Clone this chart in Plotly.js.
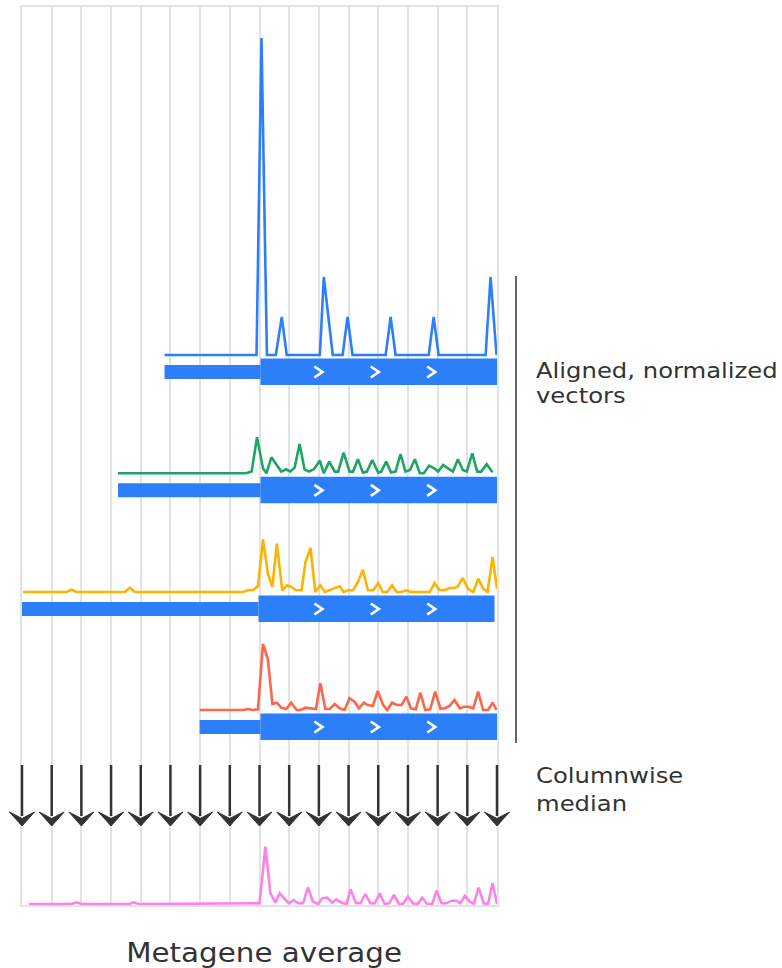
<!DOCTYPE html>
<html><head><meta charset="utf-8">
<script src="https://cdn.plot.ly/plotly-3.0.1.min.js"></script>
<style>html,body{margin:0;padding:0;background:#fff}#chart{width:782px;height:968px}</style>
</head><body><div id="chart"></div>
<script>
// ---- data (x = nt position relative to start codon, y = normalized signal) ----
const columnEdges = [-48,-42,-36,-30,-24,-18,-12,-6,0,6,12,18,24,30,36,42,48];
const chevronPos = [11.9, 23.3, 34.7];

const blueX = [-19.2,-0.6,0.4,1.5,3.3,4.5,5.5,12.2,13.0,14.8,16.8,17.8,18.8,25.5,26.5,27.5,34.2,35.2,36.2,45.7,46.7,47.9];
const blueY = [0,0,31.7,0,0,3.8,0,0,7.8,0,0,3.8,0,0,3.8,0,0,3.8,0,0,7.8,0];

const greenX = [-28.6,-2.7,-1.6,-0.5,0.7,1.4,2.4,4.4,5.4,6.2,7.1,8.1,9.1,10.0,11.0,12.2,13.0,14.1,15.2,15.9,17.0,18.2,18.9,19.9,20.9,21.7,22.8,24.0,24.6,25.6,26.6,27.5,28.5,29.5,30.4,31.4,32.4,33.2,34.3,35.3,36.1,37.1,38.1,39.1,40.1,41.1,41.9,43.0,44.0,44.8,45.9,47.1];
const greenY = [0,0,0.17,3.6,0.5,0,1.6,0.17,0.4,0.17,0.57,2.93,0.4,0.17,0.4,1.27,0,1.17,0.17,0.17,2.07,0.17,0.17,1.4,0.07,0.17,1.33,0.07,0.17,1.17,0.07,0.17,1.93,0.17,0.33,1.4,0,0,0.77,0.5,0.17,0.83,0.5,0.17,1.4,0.33,0.17,2.0,0.17,0.17,0.9,0.1];

const yellowX = [-47.8,-39.0,-38.0,-37.0,-27.2,-26.2,-25.2,-3.3,-2.3,-1.3,-0.3,0.7,1.7,2.6,3.5,4.6,5.6,6.4,7.4,8.5,9.3,10.3,11.3,12.3,13.2,14.2,15.2,16.2,17.0,17.9,18.9,19.9,20.9,21.9,23.0,24.0,24.9,25.8,26.8,27.7,28.7,29.6,30.5,34.4,35.4,36.4,37.4,38.4,39.4,40.1,41.1,42.1,43.2,44.2,45.2,46.1,47.1,48.0];
const yellowY = [0,0,0.23,0,0,0.43,0,0,0.17,0.17,0.6,5.27,1.83,0.5,4.83,0.17,0.67,0.5,0.17,0.17,3.0,4.4,0,0.67,0,0.17,0.33,0.57,0,0.17,0.17,1.0,2.23,0.17,0.17,0.9,0,0,0.67,0,0,0.17,0,0,0.9,0.17,0.17,0.4,0.4,0.57,1.4,0.33,0,1.33,0.33,0,3.5,0.33];

const redX = [-12.1,-3.3,-2.3,-1.3,-0.3,0.7,1.7,2.6,3.5,4.4,5.4,6.4,7.5,8.3,9.3,10.3,11.4,12.3,13.3,14.2,15.2,16.2,17.2,18.2,19.2,20.1,21.1,21.9,22.9,23.9,25.0,25.8,26.8,27.8,28.7,29.7,30.6,31.6,32.5,33.5,34.5,35.5,36.6,37.4,38.4,39.4,40.5,41.3,42.2,43.2,44.2,45.2,46.2,47.1,47.9];
const redY = [0,0,0.1,0,0.07,6.6,5.07,0.6,0.73,0.23,0.1,0.73,0,0,0.23,0.17,0.1,2.67,0.13,0.1,0.6,0.17,0,1.17,0.83,0.17,0.73,0.5,0.4,1.9,0.5,0,0.73,0.5,0.5,1.33,0.17,0.07,1.73,0,0.07,1.83,0.1,0.17,0.4,1.0,0.17,0.33,0.33,0.17,1.83,0,0,0.73,0];

const medianX = [-46.6,-38.0,-37.0,-36.0,-26.4,-25.4,-24.4,-2.3,-1.3,0.0,1.2,2.2,3.2,4.1,5.1,6.0,6.9,7.8,8.8,9.8,10.8,11.8,12.7,13.7,14.7,15.5,16.6,17.6,18.4,19.5,20.4,21.4,22.4,23.3,24.3,25.3,26.2,27.2,28.2,29.0,30.0,31.0,32.0,32.9,33.9,34.9,35.8,36.8,37.8,38.8,39.8,40.6,41.5,42.5,43.3,44.3,45.3,46.2,47.1,48.0];
const medianY = [0,0,0.17,0,0,0.17,0,0,0.07,0.07,5.73,1.07,0.17,1.07,0.5,0.07,0.4,0.07,0.07,1.67,0.23,0,0.57,0.63,0.13,0.47,0.13,0,1.47,0.07,0.07,1.0,0.07,0.07,1.07,0,0.07,0.9,0,0,0.73,0.07,0,0.63,0,0,1.33,0.07,0.07,0.33,0.33,0.07,0.8,0.23,0,1.63,0.07,0,2.07,0];

// gene models (one per aligned vector)
const geneStart = [-19.2, -28.6, -48, -12.1];
const cdsStart  = [0.2, 0.2, -0.2, 0.2];
const geneEnd   = [48, 48, 47.5, 48];

const labelVectors = ['Aligned, normalized', 'vectors'];
const labelMedian = ['Columnwise', 'median'];
const labelTitle = 'Metagene average';

// ---- styling / layout ----
const W = 782, H = 968, TOP = 7, BOT = 905, LEFT = 22, RIGHT = 497;
const P = py => (BOT - py) / (BOT - TOP);          // pixel row -> paper fraction
const PX = px => (px - LEFT) / (RIGHT - LEFT);       // pixel col -> paper fraction
const XR = [-48, 48];
const XP = v => (v - XR[0]) / (XR[1] - XR[0]);       // x value -> paper fraction
const UNIT = 10;                                     // px per signal unit
const GRID = '#e3e3e3', INK = '#333333', GENE = '#2D7FF9';
const FONT = 'DejaVu Sans';
const STRETCH = 1.13;

const rows = [
  {x: blueX,   y: blueY,   color: '#2D7FF9', base: 355,   range: [-3.5, 32.5]},
  {x: greenX,  y: greenY,  color: '#1FA463', base: 473.3, range: [-3.5, 6]},
  {x: yellowX, y: yellowY, color: '#FCB400', base: 592,   range: [-3.5, 6]},
  {x: redX,    y: redY,    color: '#FF6647', base: 710,   range: [-3.5, 7.5]},
  {x: medianX, y: medianY, color: '#FF80E6', base: 904,   range: [-0.1, 6.5]}
];

const data = [{x: [null], y: [null], xaxis: 'x', yaxis: 'y', hoverinfo: 'skip', showlegend: false}];
const layout = {
  width: W, height: H,
  margin: {l: LEFT, r: W - RIGHT, t: TOP, b: H - BOT, pad: 0},
  paper_bgcolor: '#fff', plot_bgcolor: 'rgba(0,0,0,0)',
  showlegend: false,
  font: {family: FONT, color: INK},
  xaxis: {range: XR, tick0: 0, dtick: 6, showgrid: true, gridcolor: GRID, gridwidth: 2,
          zeroline: false, showticklabels: false, ticks: '', showline: true, mirror: true,
          linecolor: GRID, linewidth: 2, anchor: 'y', fixedrange: true},
  yaxis: {domain: [0, 1], range: [0, 1], showgrid: false, zeroline: false, showticklabels: false,
          ticks: '', showline: true, mirror: true, linecolor: GRID, linewidth: 2, anchor: 'x', fixedrange: true},
  shapes: [], annotations: []
};

rows.forEach((r, i) => {
  const id = i + 2;
  const yname = 'y' + id;
  const bottomPx = r.base - r.range[0] * UNIT;
  const topPx = r.base - r.range[1] * UNIT;
  layout['yaxis' + id] = {domain: [Math.max(0, P(bottomPx)), Math.min(1, P(topPx))], range: r.range,
    showgrid: false, zeroline: false, showticklabels: false, ticks: '', showline: false,
    anchor: 'x', fixedrange: true};
  data.push({x: r.x, y: r.y, xaxis: 'x', yaxis: yname, type: 'scatter', mode: 'lines',
    line: {color: r.color, width: 2.6}, hoverinfo: 'skip'});
  if (i < geneStart.length) {
    // 5' UTR (thin) and CDS (thick)
    layout.shapes.push({type: 'rect', xref: 'x', yref: yname, x0: geneStart[i], x1: cdsStart[i],
      y0: -2.4, y1: -1.0, fillcolor: GENE, line: {width: 0}, layer: 'above'});
    layout.shapes.push({type: 'rect', xref: 'x', yref: yname, x0: cdsStart[i], x1: geneEnd[i],
      y0: -3.0, y1: -0.35, fillcolor: GENE, line: {width: 0}, layer: 'above'});
    chevronPos.forEach(c => {
      layout.shapes.push({type: 'path', xref: 'x', yref: yname, xsizemode: 'pixel', xanchor: c,
        ysizemode: 'pixel', yanchor: -1.7, path: 'M-4,5.5L4,0L-4,-5.5',
        line: {color: '#ffffff', width: 2.7}, layer: 'above'});
    });
  }
});

// downward arrows on every column edge (paper refs so edge arrows are not clipped)
columnEdges.forEach(c => {
  const xa = XP(c);
  layout.shapes.push({type: 'path', xref: 'paper', yref: 'paper', xsizemode: 'pixel', xanchor: xa,
    path: 'M0,' + P(765) + 'L0,' + P(816), line: {color: INK, width: 2.5}, layer: 'above'});
  layout.shapes.push({type: 'path', xref: 'paper', yref: 'paper', xsizemode: 'pixel', xanchor: xa,
    path: 'M-12.5,' + P(812) + 'L0,' + P(826) + 'L12.5,' + P(812) + 'L0,' + P(818.5) + 'Z',
    fillcolor: INK, line: {color: INK, width: 1}, layer: 'above'});
});

// bracket
layout.shapes.push({type: 'line', xref: 'paper', yref: 'paper', x0: PX(516), x1: PX(516),
  y0: P(276), y1: P(743), line: {color: '#666666', width: 2}});

function label(text, px, py, size, xanchor) {
  layout.annotations.push({xref: 'paper', yref: 'paper', x: PX(px), y: P(py), xanchor: xanchor,
    yanchor: 'middle', align: xanchor === 'left' ? 'left' : 'center', showarrow: false, text: text,
    font: {family: FONT, size: size, color: INK}});
}
label(labelVectors[0], 533.5, 370, 21.5, 'left');
label(labelVectors[1], 533.5, 396, 21.5, 'left');
label(labelMedian[0], 533.5, 775.5, 21.5, 'left');
label(labelMedian[1], 533.5, 803.5, 21.5, 'left');
label(labelTitle, 263.5, 953, 26, 'center');

Plotly.newPlot('chart', data, layout, {staticPlot: true, displayModeBar: false}).then(gd => {
  // the reference text is slightly wider than DejaVu Sans; widen glyphs horizontally
  gd.querySelectorAll('text.annotation-text').forEach(t => {
    const b = t.getBBox();
    const anchor = t.getAttribute('text-anchor') || t.style.textAnchor;
    const ax = anchor === 'middle' ? b.x + b.width / 2 : b.x;
    const prev = t.getAttribute('transform') || '';
    t.setAttribute('transform', prev + ' translate(' + ax + ',0) scale(' + STRETCH + ',1) translate(' + (-ax) + ',0)');
  });
});
</script>
</body></html>
